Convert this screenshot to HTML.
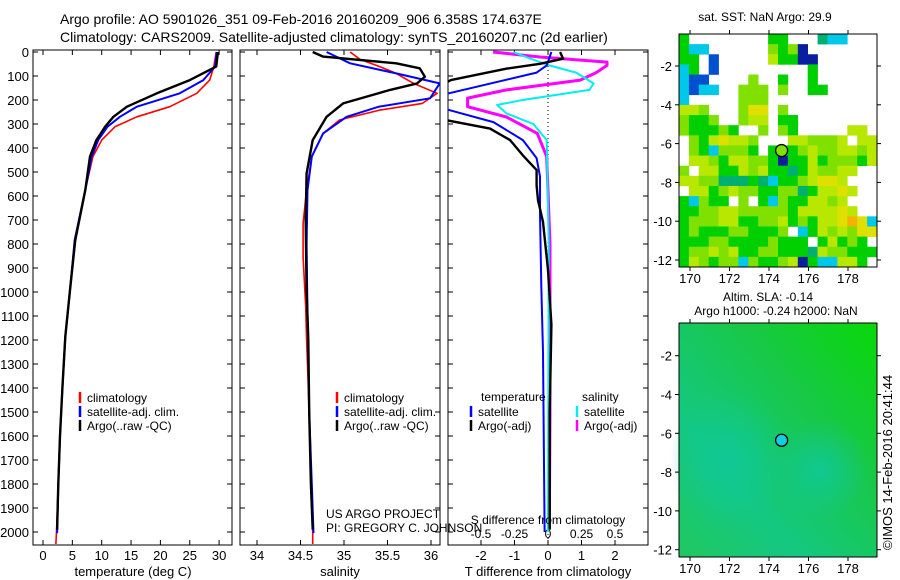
<!DOCTYPE html>
<html><head><meta charset="utf-8"><style>
body{margin:0;background:#fff;}
svg{display:block;font-family:"Liberation Sans",sans-serif;}
</style></head><body>
<svg id="fig" width="900" height="580" viewBox="0 0 900 580">
<defs>
<clipPath id="c1"><rect x="33" y="50" width="199" height="495"/></clipPath>
<clipPath id="c2"><rect x="240" y="50" width="200" height="495"/></clipPath>
<clipPath id="c3"><rect x="448" y="50" width="200" height="495"/></clipPath>
<linearGradient id="sla" x1="1" y1="0" x2="0" y2="1">
<stop offset="0" stop-color="#08d808"/><stop offset="0.35" stop-color="#18c848"/><stop offset="0.7" stop-color="#14c882"/><stop offset="1" stop-color="#20c860"/></linearGradient>
<radialGradient id="blob" cx="0.5" cy="0.5" r="0.5"><stop offset="0" stop-color="#10c898" stop-opacity="0.9"/><stop offset="1" stop-color="#10c898" stop-opacity="0"/></radialGradient>
</defs>
<text x="60" y="24" font-size="14">Argo profile: AO 5901026_351 09-Feb-2016 20160209_906 6.358S 174.637E</text>
<text x="60" y="42" font-size="14">Climatology: CARS2009. Satellite-adjusted climatology: synTS_20160207.nc (2d earlier)</text>
<g id="p1"></g>
<g id="p2"></g>
<g id="p3"></g>
<g id="m1"></g>
<g id="m2"></g>
<text transform="translate(892,550) rotate(-90)" font-size="13">©IMOS 14-Feb-2016 20:41:44</text>
</svg>
<script>
// ---- data ----
const depthTicks = [0,100,200,300,400,500,600,700,800,900,1000,1100,1200,1300,1400,1500,1600,1700,1800,1900,2000];
const tempTicks = [0,5,10,15,20,25,30];
const salTicks = [34,34.5,35,35.5,36];
const salTickLabels = ["34","34.5","35","35.5","36"];
const tdiffTicks = [-2,-1,0,1,2];
const sdiffTicks = [-0.5,-0.25,0,0.25,0.5];
const sdiffLabels = ["-0.5","-0.25","0","0.25","0.5"];

const tempClimDepth = [0,61,117,172,228,270,311,367,436,575,783,992,1186,1400,1600,1800,2000,2050];
const tempClim = [29.5,29.1,28.4,26.2,21.6,16,12.3,10,8.5,7.2,5.4,4.6,3.8,3.3,2.9,2.6,2.3,2.2];
const tempSatDepth = [0,61,117,172,228,270,311,367,436,575,783,992,1186,1400,1600,1800,2005];
const tempSat = [29.6,29.3,27.3,23.3,16,13.1,11,9.4,8.3,7.2,5.4,4.6,3.8,3.3,2.9,2.6,2.4];
const tempArgoDepth = [0,61,117,172,228,270,311,367,436,575,783,992,1186,1400,1600,1800,1990];
const tempArgo = [29.8,29.5,25,19.4,14.3,12,10.6,9.1,8.0,7.2,5.5,4.6,3.8,3.3,2.9,2.6,2.4];

const salClimDepth = [0,30,61,89,131,172,214,242,283,339,436,575,714,853,1061,1200,1500,1800,2000,2050];
const salClim = [35.07,35.18,35.41,35.6,35.8,36.07,35.9,35.41,34.95,34.76,34.63,34.57,34.53,34.53,34.56,34.57,34.6,34.62,34.64,34.64];
const salSatDepth = [0,47,89,131,193,228,270,339,436,575,800,1100,1500,1800,2005];
const salSat = [34.8,35.07,35.6,36.1,35.99,35.4,35.03,34.76,34.63,34.58,34.57,34.58,34.6,34.63,34.65];
const salArgoDepth = [0,19,47,68,103,131,158,214,270,367,506,700,1000,1100,1200,1500,1800,1990];
const salArgo = [34.64,34.76,35.6,35.87,35.93,35.84,35.53,34.99,34.8,34.64,34.57,34.56,34.57,34.58,34.59,34.6,34.62,34.64];

const dtArgoDepth = [0,28,49,69,117,200,285,319,367,431,492,556,617,708,908,1136,1500,1990];
const dtArgo = [0.36,0.45,-0.24,-1.23,-2.9,-4,-3,-1.73,-1.13,-0.75,-0.34,-0.34,-0.3,-0.15,0,0.1,0.05,0.05];
const dtSatDepth = [0,56,86,147,190,240,292,367,442,519,672,975,1250,2000];
const dtSat = [0.1,-0.04,-0.34,-2.2,-3.5,-3,-1.63,-0.75,-0.34,-0.24,-0.24,-0.2,-0.15,-0.1];
const dsArgoDepth = [0,21,42,56,86,117,158,192,228,271,339,436,800,1500,1990];
const dsArgo = [-0.41,-0.06,0.44,0.44,0.36,0.24,-0.31,-0.6,-0.6,-0.31,-0.08,-0.01,0.015,0.015,0.01];
const dsSatDepth = [0,28,56,86,131,158,200,221,256,300,367,800,2000];
const dsSat = [-0.26,-0.13,0.01,0.21,0.34,0.31,-0.19,-0.38,-0.31,-0.11,-0.01,0.005,0.0];

const lonTicks = [170,172,174,176,178];
const latTicks = [-2,-4,-6,-8,-10,-12];
const argoLon = 174.637, argoLat = -6.358;
const sstGrid = [
"g........gg...tcc...",
"gcc......lgld.......",
"gg.b.....yggdd......",
"cg.b.........g......",
"cbb....l..g..g......",
"cbcc..lll.l..gg.....",
"c.....lll...........",
"yyl...lYY.l.........",
"lggl..lyy.gg........",
"lggglg..l.lg.....yy.",
".lgyYyyl...yyllly.yy",
".lgclllg.ggglyllyyly",
".yylgyyllgdggyglllgy",
"l.yyggylyggtgyllyy..",
"yylltttgtcgglyYYy..",
".yyglyllgglltgyyYy..",
"gclgg.l.gclggyyly...",
"ggllyylllllgyyyyYy..",
"glllyyggllyglgyyYoYc",
"glgggllgggl.cgylylYY",
"gggllgggglggg.gyglg.",
"gllylyggllgggtyllgggg",
"gylgllclgglydgccyyg."];
const sstColors = {g:"#00d000",l:"#80e000",y:"#b8e800",Y:"#e0e000",b:"#0050d0",c:"#00c8e8",d:"#0820a0",o:"#f8b000",t:"#00b070"};

// ---- helpers ----
const NS="http://www.w3.org/2000/svg";
function mk(parent,tag,attrs,text){const e=document.createElementNS(NS,tag);for(const k in attrs)e.setAttribute(k,attrs[k]);if(text!==undefined)e.textContent=text;parent.appendChild(e);return e;}
const yD = d => 52 + d*0.24;
const xT = t => 43 + t*5.87;
const xS = s => 257 + (s-34)*87;
const xDT = t => 548 + t*33.5;
const xDS = s => 548 + s*134;

function frame(g,x0,x1,showLabels){
  const r=mk(g,"rect",{x:x0,y:50,width:x1-x0,height:495,fill:"none",stroke:"#000","stroke-width":1});
  
  
  depthTicks.forEach(d=>{
    mk(g,"line",{x1:x0,y1:yD(d),x2:x0+5,y2:yD(d),stroke:"#000"});
    mk(g,"line",{x1:x1,y1:yD(d),x2:x1-5,y2:yD(d),stroke:"#000"});
    if(showLabels){
      const t=mk(g,"text",{x:x0-4,y:yD(d)+5,"font-size":13,"text-anchor":"end"},String(d));
      
      
    }
  });
}
function xticks(g,vals,labels,fx,yb,x0,x1){
  vals.forEach((v,i)=>{
    const x=fx(v);
    mk(g,"line",{x1:x,y1:yb,x2:x,y2:yb-5,stroke:"#000"});
    mk(g,"line",{x1:x,y1:50,x2:x,y2:55,stroke:"#000"});
    const t=mk(g,"text",{x:x,y:yb+15,"font-size":13,"text-anchor":"middle"},labels[i]);
    
    
  });
}
function line(g,clip,xs,ds,fx,color,w,name,dash){
  const pts=xs.map((v,i)=>fx(v).toFixed(1)+","+yD(ds[i]).toFixed(1)).join(" ");
  const p=mk(g,"polyline",{points:pts,fill:"none",stroke:color,"stroke-width":w,"clip-path":"url(#"+clip+")","stroke-linejoin":"round"});
  if(dash)p.setAttribute("stroke-dasharray",dash);
  
  
}
function legend(g,x,y,color,label){
  mk(g,"line",{x1:x,y1:y-9,x2:x,y2:y+2,stroke:color,"stroke-width":2.5});
  const t=mk(g,"text",{x:x+7,y:y+1,"font-size":12},label);
  
  
}

// ---- panel 1 ----
const p1=document.getElementById("p1");
frame(p1,33,232,true);
xticks(p1,tempTicks,tempTicks.map(String),xT,545);
line(p1,"c1",tempClim,tempClimDepth,xT,"#f00",1.6,"temp-climatology-line");
line(p1,"c1",tempSat,tempSatDepth,xT,"#00f",2,"temp-satellite-line");
line(p1,"c1",tempArgo,tempArgoDepth,xT,"#000",2.4,"temp-argo-line");
mk(p1,"text",{x:133,y:576,"font-size":13,"text-anchor":"middle"},"temperature (deg C)");
legend(p1,80,401,"#f00","climatology");
legend(p1,80,415,"#00f","satellite-adj. clim.");
legend(p1,80,429,"#000","Argo(..raw -QC)");

// ---- panel 2 ----
const p2=document.getElementById("p2");
frame(p2,240,440,false);
xticks(p2,salTicks,salTickLabels,xS,545);
line(p2,"c2",salClim,salClimDepth,xS,"#f00",1.6,"sal-climatology-line");
line(p2,"c2",salSat,salSatDepth,xS,"#00f",2,"sal-satellite-line");
line(p2,"c2",salArgo,salArgoDepth,xS,"#000",2.4,"sal-argo-line");
mk(p2,"text",{x:340,y:576,"font-size":13,"text-anchor":"middle"},"salinity");
legend(p2,337,401,"#f00","climatology");
legend(p2,337,415,"#00f","satellite-adj. clim.");
legend(p2,337,429,"#000","Argo(..raw -QC)");
mk(p2,"text",{x:326,y:518,"font-size":12},"US ARGO PROJECT");
mk(p2,"text",{x:326,y:532,"font-size":12},"PI: GREGORY C. JOHNSON");

// ---- panel 3 ----
const p3=document.getElementById("p3");
mk(p3,"rect",{x:448,y:50,width:200,height:495,fill:"none",stroke:"#000"});
depthTicks.forEach(d=>{mk(p3,"line",{x1:448,y1:yD(d),x2:453,y2:yD(d),stroke:"#000"});mk(p3,"line",{x1:648,y1:yD(d),x2:643,y2:yD(d),stroke:"#000"});});
tdiffTicks.forEach(v=>{const x=xDT(v);mk(p3,"line",{x1:x,y1:545,x2:x,y2:540,stroke:"#000"});
  const t=mk(p3,"text",{x:x,y:560,"font-size":13,"text-anchor":"middle"},String(v));
  
  });
sdiffTicks.forEach((v,i)=>{const x=xDS(v);mk(p3,"line",{x1:x,y1:50,x2:x,y2:55,stroke:"#000"});
  const t=mk(p3,"text",{x:x,y:538,"font-size":12,"text-anchor":"middle"},sdiffLabels[i]);
  
  });
mk(p3,"line",{x1:548,y1:50,x2:548,y2:545,stroke:"#000","stroke-dasharray":"1,3"});
line(p3,"c3",dsArgo,dsArgoDepth,xDS,"#f0f",3,"s-diff-argo-line");
line(p3,"c3",dsSat,dsSatDepth,xDS,"#0ee",2,"s-diff-satellite-line");
line(p3,"c3",dtSat,dtSatDepth,xDT,"#00f",2,"t-diff-satellite-line");
line(p3,"c3",dtArgo,dtArgoDepth,xDT,"#000",2.4,"t-diff-argo-line");
mk(p3,"text",{x:481,y:401,"font-size":12},"temperature");
mk(p3,"text",{x:582,y:401,"font-size":12},"salinity");
legend(p3,471,415,"#00f","satellite");
legend(p3,471,429,"#000","Argo(-adj)");
legend(p3,577,415,"#0ee","satellite");
legend(p3,577,429,"#f0f","Argo(-adj)");
mk(p3,"text",{x:548,y:524,"font-size":12,"text-anchor":"middle"},"S difference from climatology");
mk(p3,"text",{x:548,y:576,"font-size":13,"text-anchor":"middle"},"T difference from climatology");

// ---- maps ----
function mapAxes(g,top,bot,lat2y,latScale){
  const xL=lon=>690+(lon-170)*19.75;
  const yL=lat=>lat2y+(-2-lat)*latScale;
  mk(g,"rect",{x:679,y:top,width:198,height:bot-top,fill:"none",stroke:"#000"});
  lonTicks.forEach(l=>{const x=xL(l);mk(g,"line",{x1:x,y1:bot,x2:x,y2:bot+4,stroke:"#000"});mk(g,"line",{x1:x,y1:top,x2:x,y2:top-4,stroke:"#000"});
    const t=mk(g,"text",{x:x,y:bot+16,"font-size":13,"text-anchor":"middle"},String(l));
    
    });
  latTicks.forEach(l=>{const y=yL(l);mk(g,"line",{x1:679,y1:y,x2:675,y2:y,stroke:"#000"});mk(g,"line",{x1:877,y1:y,x2:881,y2:y,stroke:"#000"});
    const t=mk(g,"text",{x:672,y:y+5,"font-size":13,"text-anchor":"end"},String(l));
    
    });
  return {xL,yL};
}
const m1=document.getElementById("m1");
const cw=198/20, ch=233/23;
sstGrid.forEach((row,r)=>{for(let c=0;c<20;c++){const k=row[c];if(k&&k!=="."&&sstColors[k]){
  mk(m1,"rect",{x:679+c*cw,y:34+r*ch,width:cw+0.3,height:ch+0.3,fill:sstColors[k]});}}});
const a1=mapAxes(m1,34,267,66,19.4);
const mk1=mk(m1,"circle",{cx:a1.xL(argoLon),cy:a1.yL(argoLat),r:6,fill:"#80e000",stroke:"#000","stroke-width":1.3});


mk(m1,"text",{x:765,y:21,"font-size":12,"text-anchor":"middle"},"sat. SST: NaN Argo: 29.9");

const m2=document.getElementById("m2");
mk(m2,"rect",{x:679,y:323,width:198,height:234,fill:"url(#sla)"});
mk(m2,"ellipse",{cx:730,cy:460,rx:60,ry:70,fill:"url(#blob)"});
mk(m2,"ellipse",{cx:820,cy:470,rx:50,ry:50,fill:"url(#blob)"});
const a2=mapAxes(m2,323,557,355.7,19.4);
const mk2=mk(m2,"circle",{cx:a2.xL(argoLon),cy:a2.yL(argoLat),r:6,fill:"#10d0e0",stroke:"#000","stroke-width":1.3});


mk(m2,"text",{x:768,y:301,"font-size":12,"text-anchor":"middle"},"Altim. SLA: -0.14");
mk(m2,"text",{x:776,y:315,"font-size":12,"text-anchor":"middle"},"Argo h1000: -0.24 h2000: NaN");
</script>
</body></html>
